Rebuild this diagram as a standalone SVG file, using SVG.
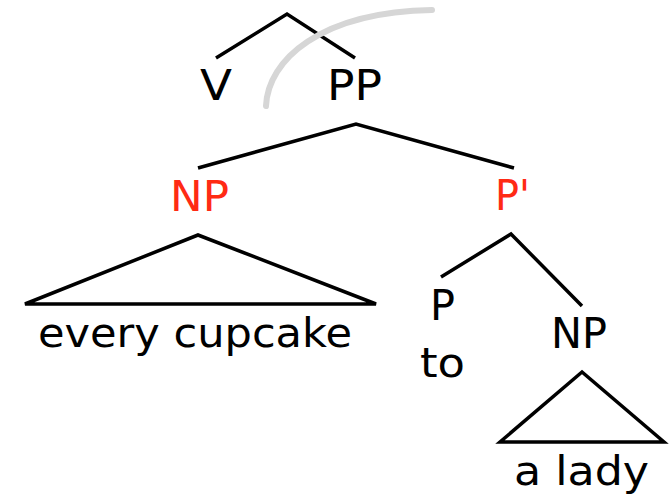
<svg xmlns="http://www.w3.org/2000/svg" width="669" height="495" viewBox="0 0 669 495">
  <style>
    .edge { fill: none; stroke: #000; stroke-width: 3.5; stroke-linejoin: miter; }
    .lbl { font-family: "DejaVu Sans", "Liberation Sans", sans-serif; font-size: 43px; fill: #000; }
    .word { font-family: "DejaVu Sans", "Liberation Sans", sans-serif; font-size: 40px; fill: #000; }
    .hl { fill: #ff2a14; }
  </style>
  <rect width="669" height="495" fill="#fff"/>

  <g id="connectors">
    <polyline class="edge" points="216,58 287,14 355,58"/>
    <polyline class="edge" points="198,168 356,124 514,168"/>
    <polyline class="edge" points="441,277 511,234 582,306"/>
    <polygon class="edge" points="198,235 25,304 376,304"/>
    <polygon class="edge" points="582,372 500,442 664,442"/>
  </g>

  <path id="sweep" d="M266,106 C268,60 320,12 432,10" fill="none" stroke="#d6d6d6" stroke-width="6" stroke-linecap="round"/>

  <g id="node-V"><text class="lbl" x="200" y="100" textLength="32" lengthAdjust="spacingAndGlyphs">V</text></g>
  <g id="node-PP"><text class="lbl" x="327" y="100" textLength="55" lengthAdjust="spacingAndGlyphs">PP</text></g>
  <g id="node-NP1"><text class="lbl hl" x="170" y="211" textLength="59" lengthAdjust="spacingAndGlyphs">NP</text></g>
  <g id="node-Pbar"><text class="lbl hl" x="495" y="210" textLength="35" lengthAdjust="spacingAndGlyphs">P'</text></g>
  <g id="word-every-cupcake"><text class="word" x="38" y="347" textLength="314" lengthAdjust="spacingAndGlyphs">every cupcake</text></g>
  <g id="node-P"><text class="lbl" x="430" y="320" textLength="25" lengthAdjust="spacingAndGlyphs">P</text></g>
  <g id="word-to"><text class="word" x="420" y="377" textLength="45" lengthAdjust="spacingAndGlyphs">to</text></g>
  <g id="node-NP2"><text class="lbl" x="551" y="348" textLength="56" lengthAdjust="spacingAndGlyphs">NP</text></g>
  <g id="word-a-lady"><text class="word" x="514" y="485" textLength="135" lengthAdjust="spacingAndGlyphs">a lady</text></g>
</svg>
